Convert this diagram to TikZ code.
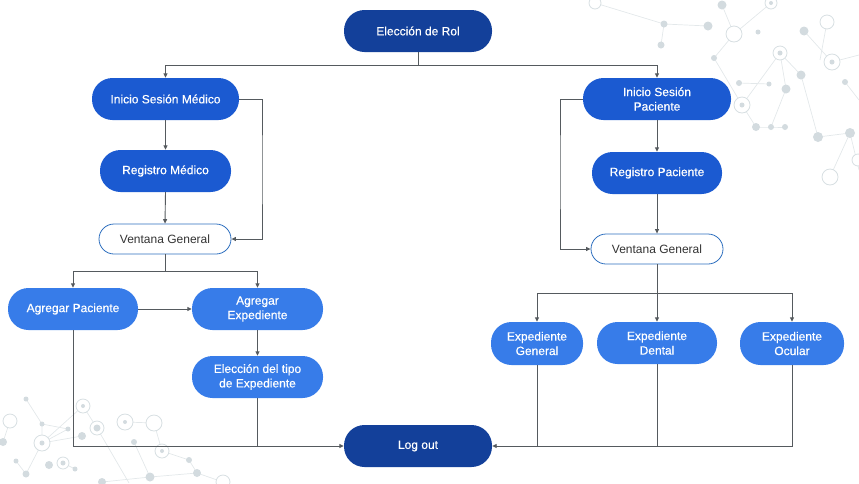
\documentclass[tikz,border=0pt]{standalone}
\usepackage{fontspec}
\setmainfont{Liberation Sans}
\newfontfamily\medfont{Liberation Sans}[FakeBold=0.45]
\usetikzlibrary{arrows.meta}
\definecolor{dkblue}{HTML}{13409A}
\definecolor{mdblue}{HTML}{1B5AD1}
\definecolor{ltblue}{HTML}{377CE9}
\definecolor{vgborder}{HTML}{2E6FBF}
\definecolor{conncol}{HTML}{555A5E}
\definecolor{netdot}{HTML}{D3DBDF}
\definecolor{netline}{HTML}{E3E8EA}
\definecolor{netring}{HTML}{D7DFE2}
\tikzset{
  pill/.style={rectangle, rounded corners=20.5pt, minimum height=42pt, inner sep=0pt,
     text=white, font=\medfont\fontsize{12}{14.5}\selectfont, align=center},
  pilldk/.style={pill, fill=dkblue},
  pillmd/.style={pill, fill=mdblue},
  pilllt/.style={pill, fill=ltblue},
  vent/.style={rectangle, rounded corners=15pt, minimum height=30pt, minimum width=132pt,
     inner sep=0pt, draw=vgborder, line width=0.8pt, fill=white, text=black!80,
     font=\fontsize{12}{14.5}\selectfont},
  conn/.style={draw=conncol, line width=0.9pt},
  arr/.style={conn, -{Triangle[length=4.5pt,width=4pt]}},
  nline/.style={draw=netline, line width=0.7pt},
  ndot/.style={fill=netdot},
  nring/.style={draw=netring, line width=0.8pt, fill=white},
}
\begin{document}
\begin{tikzpicture}[x=1pt,y=-1pt]
\useasboundingbox (0,0) rectangle (859,483);
% ---------- background network (top right) ----------
\draw[nline] (595,3)--(664,24)--(708,26);
\draw[nline] (664,24)--(661,45);
\draw[nline] (722,5)--(734,34)--(771,3);
\draw[nline] (734,34)--(714,58)--(742,105)--(756,127);
\draw[nline] (739,83)--(769,84);
\draw[nline] (742,105)--(780,53)--(801,75)--(818,137)--(850,133)--(830,177);
\draw[nline] (780,53)--(786,89)--(771,127);
\draw[nline] (756,127)--(771,127)--(785,127);
\draw[nline] (804,31)--(832,62)--(859,55);
\draw[nline] (827,22)--(820,60);
\draw[nline] (845,82)--(859,100);
\draw[nline] (850,133)--(859,170);
\draw[nring] (595,3) circle (6);
\draw[nring] (734,34) circle (8);
\draw[nring] (771,3) circle (6);
\draw[nring] (827,22) circle (7);
\draw[nring] (832,62) circle (8);
\draw[nring] (780,53) circle (7);
\draw[nring] (742,105) circle (8);
\draw[nring] (830,177) circle (8);
\draw[nring] (858,160) circle (6);
\fill[ndot] (664,24) circle (3.5);
\fill[ndot] (708,26) circle (4.5);
\fill[ndot] (661,45) circle (3.5);
\fill[ndot] (722,5) circle (4.5);
\fill[ndot] (758,32) circle (2.5);
\fill[ndot] (771,3) circle (2);
\fill[ndot] (804,31) circle (4.5);
\fill[ndot] (714,58) circle (3);
\fill[ndot] (780,53) circle (2.5);
\fill[ndot] (832,62) circle (2.5);
\fill[ndot] (801,75) circle (4.5);
\fill[ndot] (739,83) circle (3);
\fill[ndot] (769,84) circle (2.5);
\fill[ndot] (786,89) circle (4.5);
\fill[ndot] (742,105) circle (2.5);
\fill[ndot] (756,127) circle (4);
\fill[ndot] (771,127) circle (3);
\fill[ndot] (785,127) circle (3);
\fill[ndot] (845,82) circle (3);
\fill[ndot] (818,137) circle (5);
\fill[ndot] (850,133) circle (5);
% ---------- background network (bottom left) ----------
\draw[nline] (26,399)--(42,424)--(68,429)--(42,443)--(42,424);
\draw[nline] (42,443)--(83,406)--(97,428)--(129,483);
\draw[nline] (42,443)--(26,474)--(16,461);
\draw[nline] (63,463)--(75,469);
\draw[nline] (10,421)--(3,442);
\draw[nline] (82,436)--(42,443);
\draw[nline] (125,422)--(154,423)--(162,451)--(189,460)--(197,473)--(150,477)--(134,442);
\draw[nline] (197,473)--(223,482);
\draw[nline] (102,482)--(150,477);
\draw[nring] (10,421) circle (7);
\draw[nring] (42,443) circle (8);
\draw[nring] (83,406) circle (7);
\draw[nring] (97,428) circle (7);
\draw[nring] (63,463) circle (6);
\draw[nring] (125,422) circle (8);
\draw[nring] (154,423) circle (8);
\draw[nring] (162,451) circle (7);
\draw[nring] (223,482) circle (7);
\fill[ndot] (26,399) circle (2.5);
\fill[ndot] (42,424) circle (2.5);
\fill[ndot] (68,429) circle (2.5);
\fill[ndot] (42,443) circle (2.5);
\fill[ndot] (3,442) circle (4);
\fill[ndot] (83,406) circle (2);
\fill[ndot] (97,428) circle (3.5);
\fill[ndot] (82,436) circle (4);
\fill[ndot] (16,461) circle (2.5);
\fill[ndot] (26,474) circle (3.5);
\fill[ndot] (49,465) circle (4);
\fill[ndot] (63,463) circle (2.5);
\fill[ndot] (75,469) circle (2.5);
\fill[ndot] (125,422) circle (2);
\fill[ndot] (134,442) circle (3);
\fill[ndot] (162,451) circle (2);
\fill[ndot] (189,460) circle (3);
\fill[ndot] (197,473) circle (4);
\fill[ndot] (150,477) circle (4.5);
\fill[ndot] (102,482) circle (4);
% ---------- nodes ----------
\node[pilldk, minimum width=148pt] (rol) at (418,31) {Elección de Rol};
\node[pillmd, minimum width=147pt] (ism) at (165.5,99) {Inicio Sesión Médico};
\node[pillmd, minimum width=131pt] (rm) at (165.5,171) {Registro Médico};
\node[vent] (vgl) at (165,239) {Ventana General};
\node[pilllt, minimum width=130pt] (ap) at (73,309) {Agregar Paciente};
\node[pilllt, minimum width=131pt] (ae) at (257.5,309) {Agregar\\Expediente};
\node[pilllt, minimum width=131pt] (et) at (257.5,377) {Elección del tipo\\de Expediente};
\node[pilldk, minimum width=148pt] (lo) at (418,446) {Log out};
\node[pillmd, minimum width=148pt] (isp) at (657,99) {Inicio Sesión\\Paciente};
\node[pillmd, minimum width=130pt] (rp) at (657,173) {Registro Paciente};
\node[vent] (vgr) at (657,249) {Ventana General};
\node[pilllt, minimum width=92pt, minimum height=43pt] (eg) at (537,343.5) {Expediente\\General};
\node[pilllt, minimum width=120pt] (ed) at (657,343) {Expediente\\Dental};
\node[pilllt, minimum width=104pt, minimum height=43pt] (eo) at (792,343.5) {Expediente\\Ocular};
% ---------- connectors ----------
\coordinate (j1) at (418,65);
\draw[conn] (rol.south) -- (j1);
\draw[arr] (j1) -| (ism.north);
\draw[arr] (j1) -| (isp.north);
\coordinate (m1) at (262,170);
\draw[arr] (ism.east) -| (m1) |- (vgl.east);
\draw[arr] (ism.south) -- (rm.north);
\draw[arr] (rm.south) -- (vgl.north);
\coordinate (j2) at (165,271);
\draw[conn] (vgl.south) -- (j2);
\draw[arr] (j2) -| (ap.north);
\draw[arr] (j2) -| (ae.north);
\draw[arr] (ap.east) -- (ae.west);
\draw[arr] (ae.south) -- (et.north);
\draw[arr] (ap.south) |- (lo.west);
\draw[conn] (et.south) -- (et.south |- lo.west);
\coordinate (m2) at (560,170);
\draw[arr] (isp.west) -| (m2) |- (vgr.west);
\draw[arr] (isp.south) -- (rp.north);
\draw[arr] (rp.south) -- (vgr.north);
\coordinate (j4) at (657,293);
\draw[conn] (vgr.south) -- (j4);
\draw[arr] (j4) -| (eg.north);
\draw[arr] (j4) -- (ed.north);
\draw[arr] (j4) -| (eo.north);
\draw[arr] (eo.south) |- (lo.east);
\draw[conn] (eg.south) -- (eg.south |- lo.east);
\draw[conn] (ed.south) -- (ed.south |- lo.east);
\end{tikzpicture}
\end{document}
